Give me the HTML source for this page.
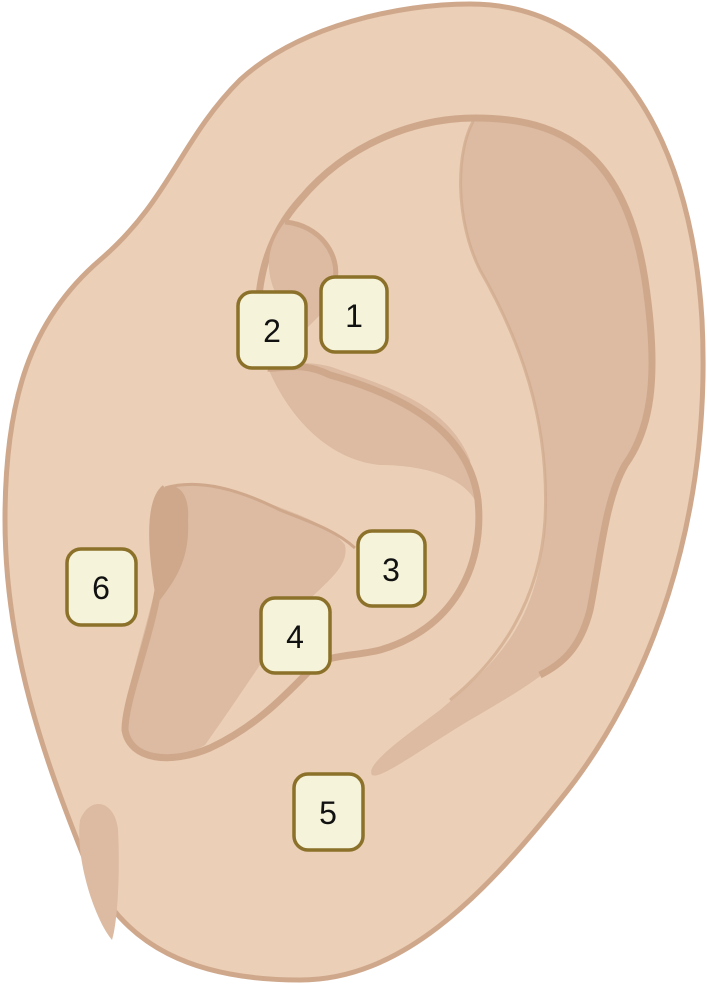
<!DOCTYPE html>
<html><head><meta charset="utf-8"><style>
html,body{margin:0;padding:0;background:#fff;}
svg{display:block;}
text{font-family:"Liberation Sans",sans-serif;font-size:32px;fill:#111;}
</style></head><body>
<svg width="707" height="984" viewBox="0 0 707 984" xmlns="http://www.w3.org/2000/svg">
<path d="M470 4 C600 4 690 120 702 320 C712 520 650 690 560 800 C480 900 400 980 300 980 C200 980 120 950 85 860 C45 760 5 650 5 520 C5 400 30 320 100 260 C170 200 180 140 240 80 C300 25 400 4 470 4 Z" fill="#EBCFB6" stroke="#CFA88C" stroke-width="5"/>
<path d="M80 820 C90 795 115 800 118 830 C120 870 118 920 112 940 C95 920 75 860 80 820 Z" fill="#DCBBA2"/>
<path d="M475 118 C560 120 620 160 640 260 C660 360 650 420 625 465 C605 505 600 560 590 610 C580 660 520 690 470 720 C420 750 380 780 372 775 C365 765 400 740 440 710 C500 660 540 620 545 520 C550 420 520 340 480 270 C455 220 455 150 475 118 Z" fill="#DCBBA2"/>
<path d="M268 368 C250 320 255 250 300 200 C350 140 420 118 475 118 C560 118 625 150 645 280 C660 380 650 430 625 465 C605 500 600 560 590 610 C580 650 560 665 540 675" fill="none" stroke="#CFA88C" stroke-width="7"/>
<path d="M475 118 C455 150 455 220 480 270 C520 340 550 420 545 520 C540 600 500 660 450 700" fill="none" stroke="#CFA88C" stroke-width="3" opacity="0.7"/>
<path d="M285 222 C320 225 345 260 335 300 L305 330 C270 300 255 260 285 222 Z" fill="#DCBBA2"/>
<path d="M268 368 C290 420 330 460 380 465 C420 465 460 475 475 500 L470 460 C450 410 400 390 340 370 C320 362 300 362 285 365 Z" fill="#DCBBA2"/>
<path d="M268 368 C280 370 300 360 330 375 C420 400 470 440 478 500 C485 570 450 630 380 650 C360 655 340 655 325 660" fill="none" stroke="#CFA88C" stroke-width="7"/>
<path d="M285 222 C320 225 340 255 335 280" fill="none" stroke="#CFA88C" stroke-width="5"/>
<path d="M160 490 C180 480 210 480 260 500 C300 515 330 525 345 545 C350 570 320 585 290 620 C270 650 230 710 205 745 C180 760 140 760 125 740 C120 710 140 650 155 590 C160 560 150 520 160 490 Z" fill="#DCBBA2"/>
<path d="M160 490 C175 480 190 490 188 520 C190 560 175 580 160 600 C150 560 150 520 160 490 Z" fill="#CFA78A"/>
<path d="M165 488 C200 478 240 490 280 510 C310 522 335 530 355 548" fill="none" stroke="#CFA88C" stroke-width="3"/>
<path d="M165 488 C150 500 150 540 158 590 C150 640 125 700 125 730 C130 760 170 765 210 748 C260 725 290 690 320 660" fill="none" stroke="#CFA88C" stroke-width="7"/>
<g fill="#F5F3DA" stroke="#8B7129" stroke-width="3.5">
<rect x="321" y="277" width="66" height="75" rx="14"/>
<rect x="238" y="292" width="68" height="76" rx="14"/>
<rect x="358" y="531" width="67" height="75" rx="14"/>
<rect x="261" y="598" width="69" height="75" rx="14"/>
<rect x="294" y="774" width="69" height="76" rx="14"/>
<rect x="67" y="549" width="69" height="76" rx="14"/>
</g>
<g text-anchor="middle">
<text x="354" y="327">1</text>
<text x="272" y="342">2</text>
<text x="391" y="581">3</text>
<text x="295" y="648">4</text>
<text x="328" y="824">5</text>
<text x="101" y="599">6</text>
</g>
</svg>
</body></html>
